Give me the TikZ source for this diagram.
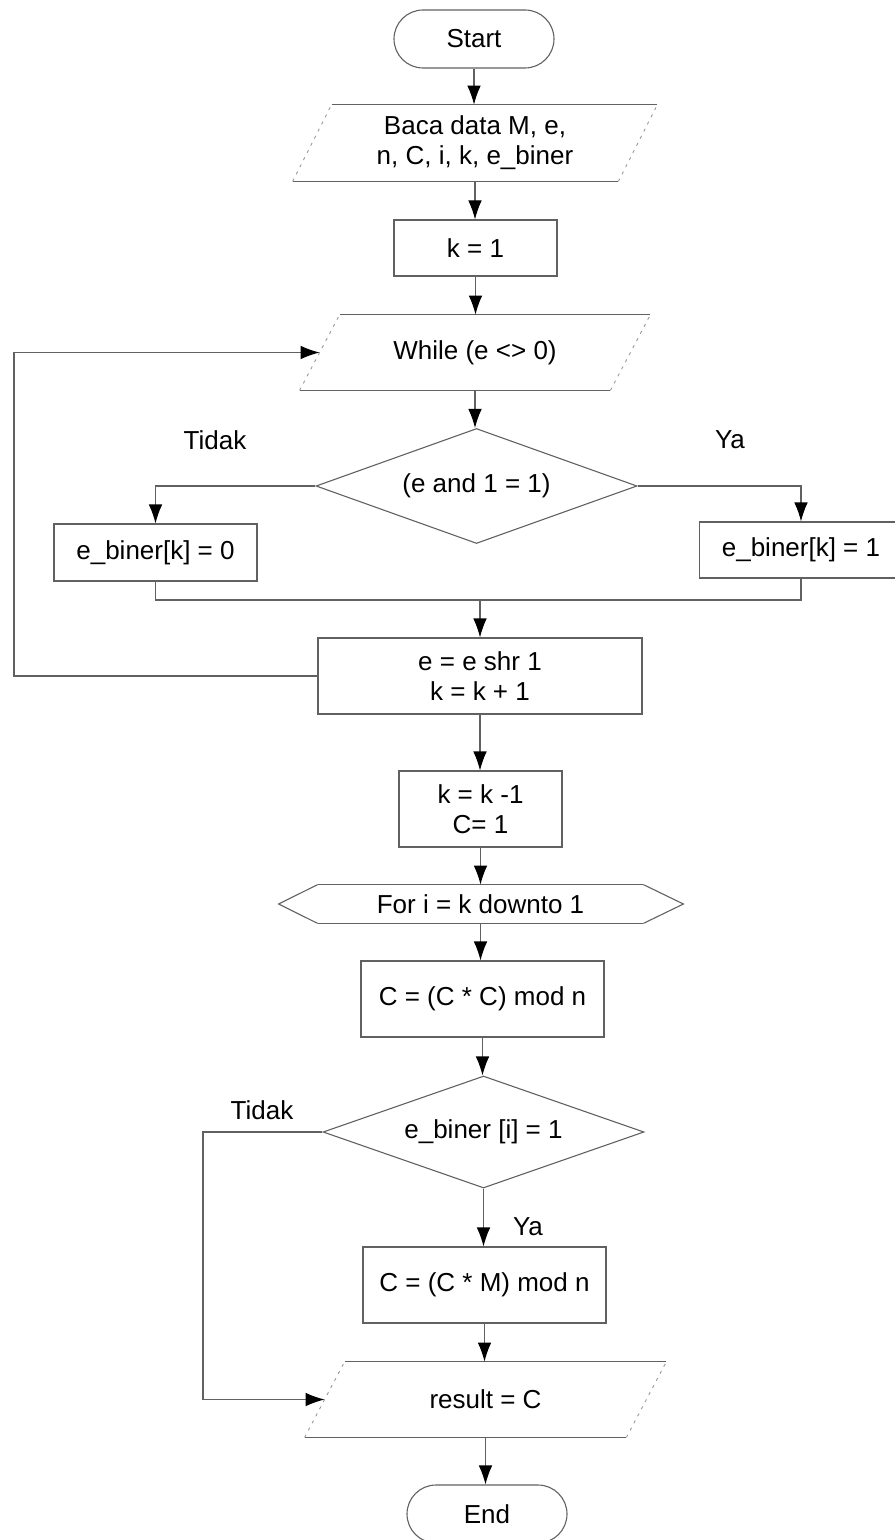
\documentclass[tikz,border=0pt]{standalone}
\usepackage{fontspec}
\setmainfont{Liberation Sans}
\usetikzlibrary{shapes.geometric,arrows.meta,calc}

\tikzset{
  ln/.style={draw=black!62,line width=0.55pt},
  faint/.style={draw=black!40,line width=0.45pt,dash pattern=on 1.5pt off 2.5pt},
  ar/.style={ln,-{Latex[length=9.5pt,width=6.8pt,color=black]}},
  txt/.style={font=\fontsize{13}{15}\selectfont,align=center,inner sep=0pt,text=black},
  box/.style={txt,rectangle,ln},
  term/.style={box,minimum width=80pt,minimum height=29pt,rounded corners=14.5pt},
  decide/.style={txt,diamond,ln,aspect=2.8}
}

% input/output parallelogram drawn around a plain node: #1 node, #2 half slant
\newcommand\ioshape[2]{%
  \draw[ln] ([xshift=#2]#1.north west) -- ([xshift=#2]#1.north east);
  \draw[ln] ([xshift=-#2]#1.south west) -- ([xshift=-#2]#1.south east);
  \draw[faint] ([xshift=-#2]#1.south west) -- ([xshift=#2]#1.north west);
  \draw[faint] ([xshift=-#2]#1.south east) -- ([xshift=#2]#1.north east);}

\begin{document}
\begin{tikzpicture}[x=0.5pt,y=-0.5pt]
\useasboundingbox (0,0) rectangle (894,1540);

% nodes
\node[term] (start) at (474,39) {Start};
\node[txt,minimum width=162.5pt,minimum height=38pt] (baca) at (475,143) {Baca data M, e,\\ n, C, i, k, e\_biner};
\node[box,minimum width=81.5pt,minimum height=28pt] (k1) at (475.5,248) {k = 1};
\node[txt,minimum width=155pt,minimum height=37.5pt] (wh) at (475,352.5) {While (e <> 0)};
\node[decide,minimum width=160.5pt,minimum height=57.5pt] (d1) at (476.5,486) {(e and 1 = 1)};
\node[box,minimum width=101.5pt,minimum height=28.5pt] (b0) at (155.5,552.5) {e\_biner[k] = 0};
\node[box,minimum width=101.5pt,minimum height=28pt] (b1) at (801,550) {e\_biner[k] = 1};
\node[box,minimum width=162pt,minimum height=38pt] (shr) at (480,676) {e = e shr 1\\ k = k + 1};
\node[box,minimum width=81.5pt,minimum height=38pt] (km) at (480.5,809) {k = k -1\\ C= 1};
\node[txt,minimum width=162.5pt,minimum height=19pt] (fr) at (480.5,904) {For i = k downto 1};
\node[box,minimum width=121.5pt,minimum height=38pt] (cc) at (482.5,999) {C = (C * C) mod n};
\node[decide,aspect=2.87,minimum width=160.5pt,minimum height=56pt] (d2) at (483.5,1132) {e\_biner [i] = 1};
\node[box,minimum width=121.5pt,minimum height=38pt] (cm) at (484.5,1285) {C = (C * M) mod n};
\node[txt,minimum width=160.5pt,minimum height=37.5pt] (res) at (485.5,1399.5) {result = C};
\node[term] (end) at (487,1514) {End};

% branch labels
\node[txt] (t1) at (215,440) {Tidak};
\node[txt] (y1) at (730,440) {Ya};
\node[txt] (t2) at (262,1110) {Tidak};
\node[txt] (y2) at (528,1227) {Ya};

% outlines of the special shapes
\ioshape{baca}{9.75pt}
\ioshape{wh}{10pt}
\ioshape{res}{10pt}
\draw[ln] (fr.north west) -- (fr.north east);
\draw[ln] (fr.south west) -- (fr.south east);
\draw[ln] (fr.north west) -- ([xshift=-19.5pt]fr.west) -- (fr.south west);
\draw[ln] (fr.north east) -- ([xshift=20pt]fr.east) -- (fr.south east);

% helper coordinates for the routed lines
\coordinate (lp) at (14,0);
\coordinate (lp2) at (203,0);
\coordinate (mg) at (0,600);

% connectors
\draw[ar] (start.south) -- (start.south |- baca.north);
\draw[ar] (baca.south) -- (baca.south |- k1.north);
\draw[ar] (k1.south) -- (k1.south |- wh.north);
\draw[ar] (wh.south) -- (wh.south |- d1.north);
\draw[ar] (d1.west) -| (b0.north);
\draw[ar] (d1.east) -| (b1.north);
\draw[ln] (b0.south) -- (b0.south |- mg) -- (b1.south |- mg) -- (b1.south);
\draw[ar] (shr.north |- mg) -- (shr.north);
\draw[ar] (shr.west) -| (lp |- wh.west) -- (wh.west);
\draw[ar] (shr.south) -- (shr.south |- km.north);
\draw[ar] (km.south) -- (km.south |- fr.north);
\draw[ar] (fr.south) -- (fr.south |- cc.north);
\draw[ar] (cc.south) -- (cc.south |- d2.north);
\draw[ar] (d2.south) -- (d2.south |- cm.north);
\draw[ar] (d2.west) -| (lp2 |- res.west) -- (res.west);
\draw[ar] (cm.south) -- (cm.south |- res.north);
\draw[ar] (res.south) -- (res.south |- end.north);
\end{tikzpicture}
\end{document}
